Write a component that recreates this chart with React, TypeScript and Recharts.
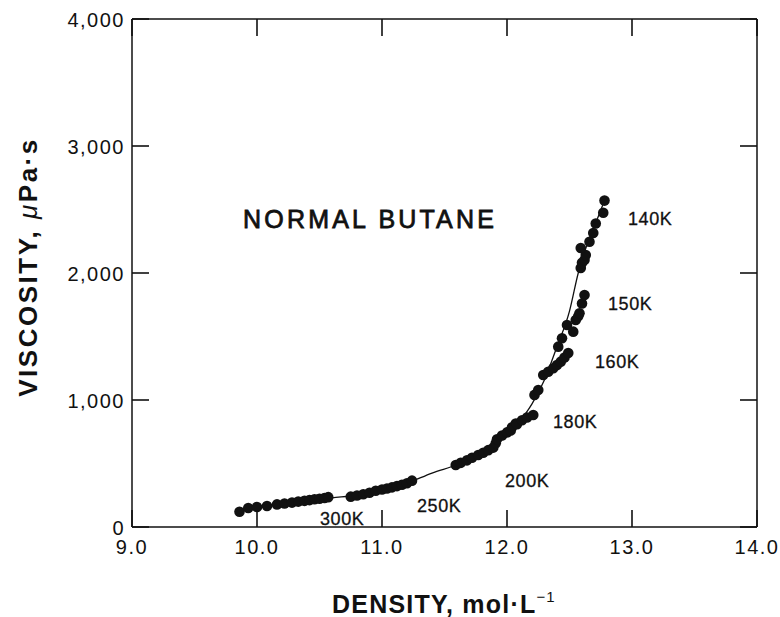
import React from "react";
import {
  ComposedChart,
  Line,
  Scatter,
  XAxis,
  YAxis,
} from "recharts";

// measured points, grouped by isotherm (density mol/L, viscosity µPa·s)
const rho300 = [9.86, 9.93, 10.0, 10.08, 10.16, 10.22, 10.28, 10.33, 10.38, 10.42, 10.46, 10.5, 10.54, 10.57];
const eta300 = [120, 150, 158, 165, 178, 185, 192, 200, 206, 212, 218, 222, 228, 235];

const rho250 = [10.75, 10.8, 10.85, 10.9, 10.95, 11.0, 11.04, 11.08, 11.12, 11.16, 11.2, 11.24];
const eta250 = [239, 248, 258, 270, 285, 295, 303, 312, 322, 333, 345, 365];

const rho200 = [11.59, 11.63, 11.68, 11.72, 11.77, 11.81, 11.85, 11.89, 11.91, 11.92, 11.96, 12.0, 12.04, 12.07];
const eta200 = [488, 505, 525, 545, 567, 585, 605, 625, 660, 690, 720, 745, 785, 815];

const rho180 = [12.03, 12.08, 12.12, 12.16, 12.21];
const eta180 = [760, 810, 840, 862, 882];

const rho160 = [12.22, 12.25, 12.29, 12.33, 12.37, 12.4, 12.43, 12.46, 12.49];
const eta160 = [1040, 1079, 1197, 1223, 1250, 1275, 1302, 1335, 1370];

const rho150 = [12.41, 12.44, 12.48, 12.53, 12.55, 12.57, 12.58, 12.6, 12.62];
const eta150 = [1420, 1486, 1590, 1538, 1630, 1660, 1683, 1760, 1827];

const rho140 = [12.59, 12.6, 12.62, 12.63, 12.59, 12.66, 12.69, 12.71, 12.77, 12.78];
const eta140 = [2039, 2080, 2102, 2142, 2197, 2246, 2315, 2390, 2475, 2570];

// smooth correlation curve
const curveRho = [9.86, 10.0, 10.3, 10.6, 10.8, 11.0, 11.2, 11.4, 11.6, 11.8, 12.0, 12.1, 12.2, 12.3, 12.4, 12.5, 12.57, 12.65, 12.72, 12.78];
const curveEta = [120, 158, 195, 230, 250, 292, 345, 425, 490, 580, 720, 830, 970, 1160, 1420, 1700, 2000, 2250, 2420, 2570];

const xTicks = [9, 10, 11, 12, 13, 14];
const yTicks = [0, 1000, 2000, 3000, 4000];

const groups = [
  [rho300, eta300],
  [rho250, eta250],
  [rho200, eta200],
  [rho180, eta180],
  [rho160, eta160],
  [rho150, eta150],
  [rho140, eta140],
];
const points = groups.flatMap(([r, e]) => r.map((x, i) => ({ x, y: e[i] })));
const curve = curveRho.map((x, i) => ({ x, y: curveEta[i] }));

const INK = "#111";
const TICK = 17;
const FONT = "'Liberation Sans', Arial, Helvetica, sans-serif";

// chart layout
const W = 780;
const H = 617;
const TOP = 19;
const BOTTOM_AXIS = 90;
const PLOT_H = H - TOP - BOTTOM_AXIS;

// bottom tick also draws the matching inward tick on the top frame
const BottomTick = (props: any) => {
  const { x, y, payload } = props;
  const top = y - PLOT_H;
  return (
    <g>
      <line x1={x} y1={y} x2={x} y2={y - TICK} stroke={INK} strokeWidth={1.6} />
      <line x1={x} y1={top} x2={x} y2={top + TICK} stroke={INK} strokeWidth={1.6} />
      <text x={x} y={y + 27} textAnchor="middle" fill={INK} fontSize={20} letterSpacing={1.5} fontFamily={FONT}>
        {payload.value.toFixed(1)}
      </text>
    </g>
  );
};

const LeftTick = (props: any) => {
  const { x, y, payload } = props;
  return (
    <g>
      <line x1={x} y1={y} x2={x + TICK} y2={y} stroke={INK} strokeWidth={1.6} />
      <text x={x - 7} y={y + 8} textAnchor="end" fill={INK} fontSize={20} letterSpacing={1.5} fontFamily={FONT}>
        {payload.value.toLocaleString("en-US")}
      </text>
    </g>
  );
};

const RightTick = (props: any) => {
  const { x, y } = props;
  return <line x1={x} y1={y} x2={x - TICK} y2={y} stroke={INK} strokeWidth={1.6} />;
};

const labelStyle = { fontFamily: FONT, fill: INK };
const tempProps = { fontSize: 18, letterSpacing: 0.6, stroke: INK, strokeWidth: 0.3, style: labelStyle };

const App = () => {
  return (
    <div style={{ position: "absolute", left: 0, top: 0, width: W, height: H, background: "#fff" }}>
      <ComposedChart
        width={W}
        height={H}
        margin={{ top: 0, right: 22, bottom: 0, left: 32 }}
      >
        <XAxis
          xAxisId="bottom"
          dataKey="x"
          type="number"
          domain={[9, 14]}
          ticks={xTicks}
          interval={0}
          height={BOTTOM_AXIS}
          tickSize={0}
          tickMargin={0}
          tickLine={false}
          axisLine={{ stroke: INK, strokeWidth: 1.5 }}
          tick={<BottomTick />}
          allowDataOverflow
        />
        <XAxis
          xAxisId="top"
          orientation="top"
          type="number"
          domain={[9, 14]}
          height={TOP}
          tickLine={false}
          tick={false}
          axisLine={{ stroke: INK, strokeWidth: 1.5 }}
          allowDataOverflow
        />
        <YAxis
          yAxisId="left"
          dataKey="y"
          type="number"
          domain={[0, 4000]}
          ticks={yTicks}
          interval={0}
          width={100}
          tickSize={0}
          tickMargin={0}
          tickLine={false}
          axisLine={{ stroke: INK, strokeWidth: 1.5 }}
          tick={<LeftTick />}
          allowDataOverflow
        />
        <YAxis
          yAxisId="right"
          orientation="right"
          type="number"
          domain={[0, 4000]}
          ticks={yTicks}
          interval={0}
          width={1}
          tickSize={0}
          tickMargin={0}
          tickLine={false}
          axisLine={{ stroke: INK, strokeWidth: 1.5 }}
          tick={<RightTick />}
          allowDataOverflow
        />
        <Line
          xAxisId="bottom"
          yAxisId="left"
          data={curve}
          dataKey="y"
          type="monotone"
          stroke={INK}
          strokeWidth={1.3}
          dot={false}
          activeDot={false}
          isAnimationActive={false}
        />
        <Scatter
          xAxisId="bottom"
          yAxisId="left"
          data={points}
          dataKey="y"
          fill={INK}
          shape={(p: any) => <circle cx={p.cx} cy={p.cy} r={5.3} fill={INK} />}
          isAnimationActive={false}
        />
      </ComposedChart>
      <svg
        width={W}
        height={H}
        style={{ position: "absolute", left: 0, top: 0, pointerEvents: "none" }}
      >
        <text x={243} y={228} fontSize={25} letterSpacing={3.2} stroke={INK} strokeWidth={0.8} style={labelStyle}>
          NORMAL BUTANE
        </text>
        <text x={628} y={225} {...tempProps}>140K</text>
        <text x={608} y={310} {...tempProps}>150K</text>
        <text x={595} y={368} {...tempProps}>160K</text>
        <text x={553} y={428} {...tempProps}>180K</text>
        <text x={505} y={487} {...tempProps}>200K</text>
        <text x={417} y={512} {...tempProps}>250K</text>
        <text x={320} y={525} {...tempProps}>300K</text>
        <text x={444} y={613} textAnchor="middle" fontSize={25} fontWeight="bold" letterSpacing={1.2} style={labelStyle}>
          DENSITY, mol·L
          <tspan dy={-11} fontSize={15} fontWeight="normal">−1</tspan>
        </text>
        <text
          x={0}
          y={0}
          transform="translate(37, 267) rotate(-90)"
          textAnchor="middle"
          fontSize={26}
          fontWeight="bold"
          letterSpacing={2.5}
          style={labelStyle}
        >
          VISCOSITY, <tspan fontStyle="italic" fontWeight="normal">μ</tspan>Pa·s
        </text>
      </svg>
    </div>
  );
};

export default App;
